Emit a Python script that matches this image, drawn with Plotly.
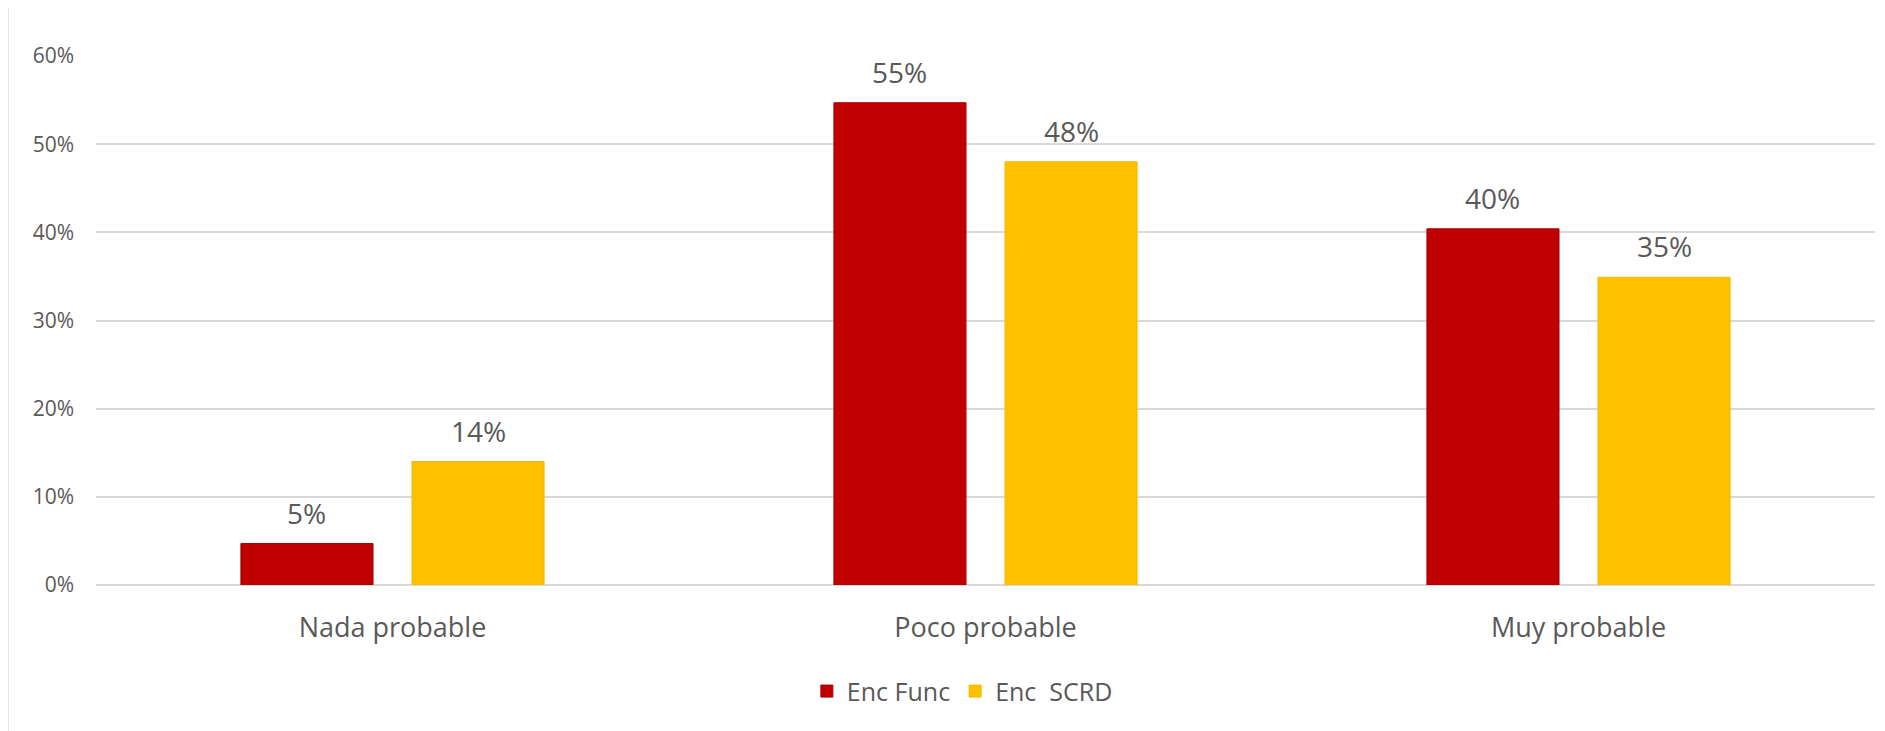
import plotly.graph_objects as go

categories = ["Nada probable", "Poco probable", "Muy probable"]
series_names = ["Enc Func", "Enc  SCRD"]
enc_func = [0.047, 0.547, 0.404]
enc_scrd = [0.14, 0.48, 0.349]
tick_vals = [0, 0.1, 0.2, 0.3, 0.4, 0.5, 0.6]
tick_text = ["0%", "10%", "20%", "30%", "40%", "50%", "60%"]

RED = "#C00000"
YELLOW = "#FFC000"
TXT = "#595959"
GRID = "#D9D9D9"
FONT = "Open Sans"

BARGAP = 0.423
BARGROUPGAP = 0.228

fig = go.Figure()
fig.add_trace(go.Bar(
    x=categories, y=enc_func, name=series_names[0],
    marker=dict(color=RED, line=dict(color="#A80000", width=1)),
))
fig.add_trace(go.Bar(
    x=categories, y=enc_scrd, name=series_names[1],
    marker=dict(color=YELLOW, line=dict(color="#F5B800", width=1)),
))

# data labels placed on the bar centres computed from the group geometry
slot = (1 - BARGAP) / 2
annotations = []
for s, vals in enumerate([enc_func, enc_scrd]):
    off = (s - 0.5) * slot
    for i, v in enumerate(vals):
        annotations.append(dict(
            x=i + off, y=v, xref="x", yref="y", text=f"{v:.0%}", showarrow=False,
            yanchor="middle", yshift=31, font=dict(size=28, color=TXT, family=FONT),
        ))

fig.update_layout(
    width=1885, height=731,
    margin=dict(l=88, r=18, t=48, b=154),
    paper_bgcolor="white", plot_bgcolor="white",
    barmode="group", bargap=BARGAP, bargroupgap=BARGROUPGAP,
    font=dict(family=FONT, color=TXT, size=21),
    showlegend=True,
    legend=dict(orientation="h", x=0.487, xanchor="center", y=-0.201, yanchor="middle",
                font=dict(size=25, color=TXT, family=FONT), traceorder="normal"),
    xaxis=dict(showgrid=False, showline=False, ticks="", tickfont=dict(size=27, color=TXT),
               ticklabelstandoff=24),
    yaxis=dict(range=[0, 0.6], tickvals=tick_vals, ticktext=tick_text,
               showgrid=True, gridcolor=GRID, gridwidth=1.5, zeroline=True, zerolinecolor=GRID,
               zerolinewidth=1.5, showline=False, tickfont=dict(size=21, color=TXT),
               ticklabelstandoff=21),
    annotations=annotations,
    shapes=[dict(type="line", xref="paper", yref="paper", x0=-0.0495, x1=-0.0495,
                 y0=-0.29, y1=1.1, line=dict(color=GRID, width=1.5))],
)

fig.write_html("out.html")
